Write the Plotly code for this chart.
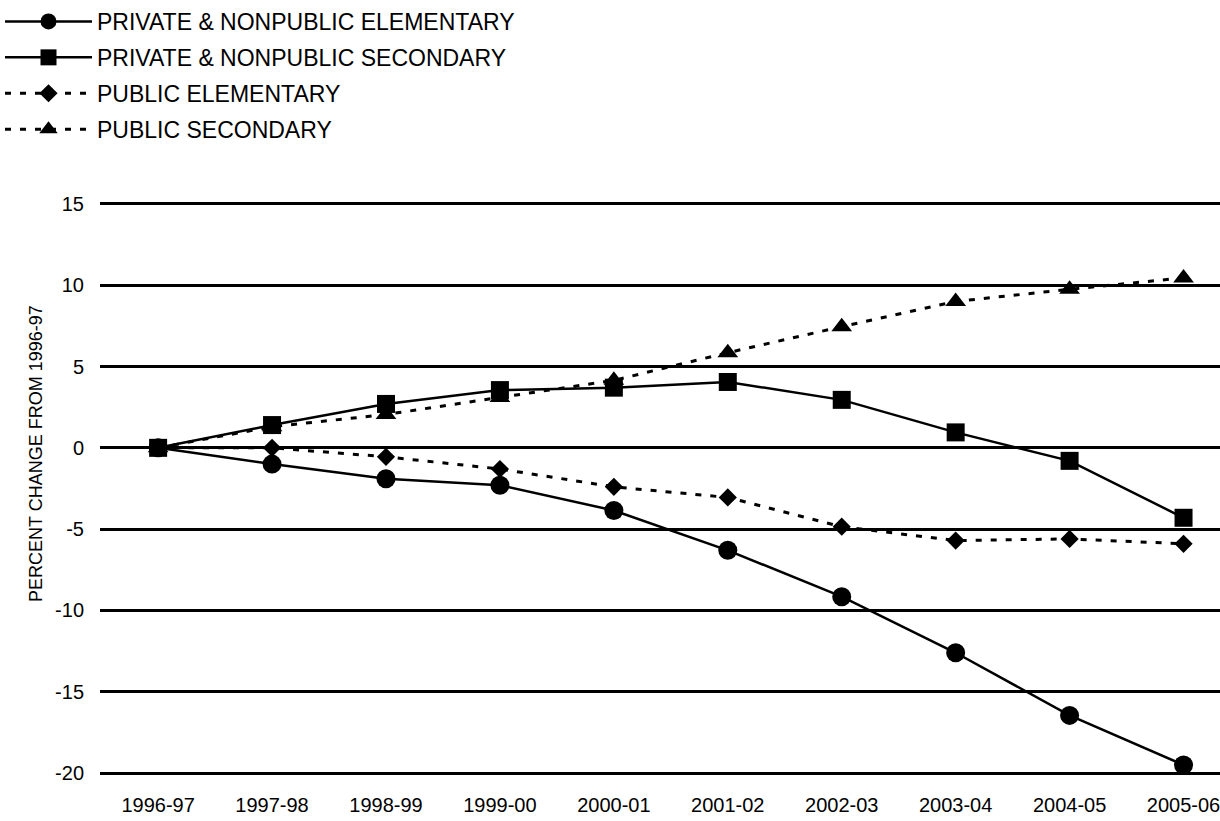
import plotly.graph_objects as go

years = ["1996-97", "1997-98", "1998-99", "1999-00", "2000-01",
         "2001-02", "2002-03", "2003-04", "2004-05", "2005-06"]

private_elementary = [0, -1.0, -1.9, -2.3, -3.85, -6.3, -9.15, -12.6, -16.45, -19.5]
private_secondary = [0, 1.4, 2.7, 3.55, 3.7, 4.05, 2.95, 0.95, -0.8, -4.3]
public_elementary = [0, 0.0, -0.55, -1.3, -2.4, -3.05, -4.85, -5.7, -5.6, -5.9]
public_secondary = [0, 1.3, 2.05, 3.1, 4.15, 5.85, 7.45, 9.0, 9.75, 10.45]

names = ["PRIVATE &amp; NONPUBLIC ELEMENTARY", "PRIVATE &amp; NONPUBLIC SECONDARY",
         "PUBLIC ELEMENTARY", "PUBLIC SECONDARY"]
y_ticks = [15, 10, 5, 0, -5, -10, -15, -20]
y_tick_text = ["15", "10", "5", "0", "-5", "-10", "-15", "-20"]

series = [
    (private_elementary, names[0], "solid", 2.5, "circle", 19),
    (private_secondary, names[1], "solid", 2.5, "square", 18),
    (public_elementary, names[2], "6px,9px", 3, "diamond", 14),
    (public_secondary, names[3], "6px,9px", 3, "triangle-up", 18),
]

fig = go.Figure()
for i, (vals, name, dash, lw, sym, sz) in enumerate(series):
    fig.add_trace(go.Scatter(
        x=years, y=vals, name=name, mode="lines+markers",
        legendgroup=f"g{i}",
        line=dict(color="black", width=lw, dash=dash),
        marker=dict(symbol=sym, size=sz, color="black"),
        cliponaxis=False,
    ))

T, B = 199, 43
fig.update_layout(
    width=1220, height=821,
    margin=dict(l=100, r=0, t=T, b=B, autoexpand=False),
    paper_bgcolor="white", plot_bgcolor="white",
    font=dict(family="Liberation Sans, Arial, sans-serif", color="black", size=19),
    showlegend=True,
    legend=dict(
        x=0, y=1 + 7 / 821, xref="container", yref="container",
        xanchor="left", yanchor="top",
        font=dict(size=23), tracegroupgap=3,
        itemwidth=87, bgcolor="rgba(0,0,0,0)",
    ),
    xaxis=dict(
        type="category", range=[-0.51, 9.32], showgrid=False,
        showline=False, ticks="", tickfont=dict(size=20), zeroline=False,
        ticklabelstandoff=13,
    ),
    yaxis=dict(
        range=[-20.3, 15.3], tickvals=y_ticks, ticktext=y_tick_text,
        showgrid=True, gridcolor="black", gridwidth=2.5, zeroline=True,
        zerolinecolor="black", zerolinewidth=2.5, showline=False,
        ticks="", tickfont=dict(size=20), ticklabelstandoff=15,
    ),
    annotations=[dict(
        text="PERCENT CHANGE FROM 1996-97", textangle=-90,
        x=(36 - 100) / 1120, y=(821 - B - 454) / (821 - T - B),
        xref="paper", yref="paper", xanchor="center", yanchor="middle",
        showarrow=False, font=dict(size=18),
    )],
)

fig.write_html(
    "out.html",
    config={"responsive": False, "displayModeBar": False},
    post_script="document.body.style.margin='0';document.body.style.overflow='hidden';",
)
